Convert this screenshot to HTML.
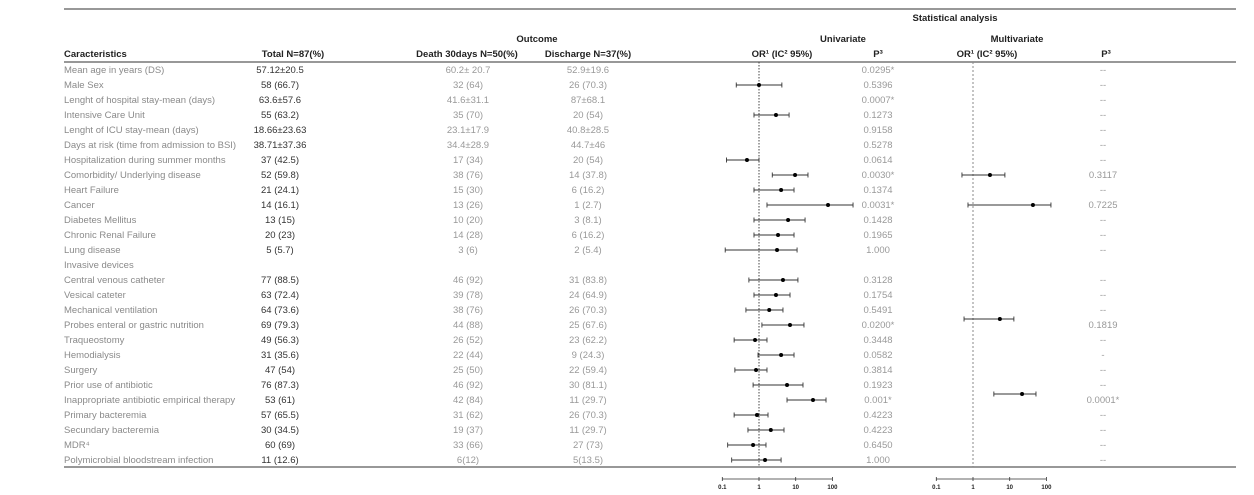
<!DOCTYPE html>
<html><head><meta charset="utf-8"><style>
body{margin:0;background:#fff;}
svg{display:block;font-family:"Liberation Sans",sans-serif;}
.h{font-weight:bold;fill:#222;font-size:9.5px}
.c{fill:#8a8a8a;font-size:9.5px}
.t{fill:#333;font-size:9.5px;text-anchor:middle}
.g{fill:#999;font-size:9.5px;text-anchor:middle}
</style></head><body>
<svg id="chart" width="1254" height="495">
<line x1="64" y1="9" x2="1236" y2="9" stroke="#777" stroke-width="1.5"/>
<text x="955" y="21" class="h" text-anchor="middle">Statistical analysis</text>
<text x="537" y="42" class="h" text-anchor="middle">Outcome</text>
<text x="843" y="42" class="h" text-anchor="middle">Univariate</text>
<text x="1017" y="42" class="h" text-anchor="middle">Multivariate</text>
<text x="64" y="57" class="h">Caracteristics</text>
<text x="293" y="57" class="h" text-anchor="middle">Total N=87(%)</text>
<text x="467" y="57" class="h" text-anchor="middle">Death 30days N=50(%)</text>
<text x="588" y="57" class="h" text-anchor="middle">Discharge N=37(%)</text>
<text x="782" y="57" class="h" text-anchor="middle">OR¹ (IC² 95%)</text>
<text x="878" y="57" class="h" text-anchor="middle">P³</text>
<text x="987" y="57" class="h" text-anchor="middle">OR¹ (IC² 95%)</text>
<text x="1106" y="57" class="h" text-anchor="middle">P³</text>
<line x1="64" y1="62" x2="1236" y2="62" stroke="#777" stroke-width="1.5"/>
<line x1="64" y1="467" x2="1236" y2="467" stroke="#777" stroke-width="1.5"/>
<g id="rows"></g>
<g id="marks"></g>
</svg>
<script>
const labels=["Mean age in years (DS)","Male Sex","Lenght of hospital stay-mean (days)","Intensive Care Unit","Lenght of ICU stay-mean (days)","Days at risk (time from admission to BSI)","Hospitalization during summer months","Comorbidity/ Underlying disease","Heart Failure","Cancer","Diabetes Mellitus","Chronic Renal Failure","Lung disease","Invasive devices","Central venous catheter","Vesical cateter","Mechanical ventilation","Probes enteral or gastric nutrition","Traqueostomy","Hemodialysis","Surgery","Prior use of antibiotic","Inappropriate antibiotic empirical therapy","Primary bacteremia","Secundary bacteremia","MDR⁴","Polymicrobial bloodstream infection"];
const totals=["57.12±20.5","58 (66.7)","63.6±57.6","55 (63.2)","18.66±23.63","38.71±37.36","37 (42.5)","52 (59.8)","21 (24.1)","14 (16.1)","13 (15)","20 (23)","5 (5.7)","","77 (88.5)","63 (72.4)","64 (73.6)","69 (79.3)","49 (56.3)","31 (35.6)","47 (54)","76 (87.3)","53 (61)","57 (65.5)","30 (34.5)","60 (69)","11 (12.6)"];
const deaths=["60.2± 20.7","32 (64)","41.6±31.1","35 (70)","23.1±17.9","34.4±28.9","17 (34)","38 (76)","15 (30)","13 (26)","10 (20)","14 (28)","3 (6)","","46 (92)","39 (78)","38 (76)","44 (88)","26 (52)","22 (44)","25 (50)","46 (92)","42 (84)","31 (62)","19 (37)","33 (66)","6(12)"];
const discharges=["52.9±19.6","26 (70.3)","87±68.1","20 (54)","40.8±28.5","44.7±46","20 (54)","14 (37.8)","6 (16.2)","1 (2.7)","3 (8.1)","6 (16.2)","2 (5.4)","","31 (83.8)","24 (64.9)","26 (70.3)","25 (67.6)","23 (62.2)","9 (24.3)","22 (59.4)","30 (81.1)","11 (29.7)","26 (70.3)","11 (29.7)","27 (73)","5(13.5)"];
const pUni=["0.0295*","0.5396","0.0007*","0.1273","0.9158","0.5278","0.0614","0.0030*","0.1374","0.0031*","0.1428","0.1965","1.000","","0.3128","0.1754","0.5491","0.0200*","0.3448","0.0582","0.3814","0.1923","0.001*","0.4223","0.4223","0.6450","1.000"];
const pMulti=["--","--","--","--","--","--","--","0.3117","--","0.7225","--","--","--","","--","--","--","0.1819","--","-","--","--","0.0001*","--","--","--","--"];
const uniOR=[null,1.0,null,2.9,null,null,0.47,9.6,4.0,76,6.2,3.3,3.1,null,4.5,2.9,1.9,7.0,0.78,4.0,0.83,5.8,29.6,0.88,2.1,0.69,1.46];
const uniLo=[null,0.24,null,0.73,null,null,0.13,2.3,0.73,1.65,0.73,0.73,0.12,null,0.53,0.73,0.44,1.2,0.21,0.94,0.22,0.69,5.8,0.21,0.5,0.14,0.18];
const uniHi=[null,4.2,null,6.6,null,null,1.0,21.6,9.0,365,18,9.0,10.9,null,11.5,7.0,4.5,16.8,1.65,9.0,1.65,15.8,67,1.76,4.8,1.55,4.0];
const multiRow=[7,9,16.6,21.6];
const multiOR=[2.9,43,5.4,21.7];
const multiLo=[0.5,0.73,0.57,3.7];
const multiHi=[7.4,133,13,52];
const ticks=[0.1,1,10,100];
const NS="http://www.w3.org/2000/svg";
function mk(tag,attrs,parent,text){const e=document.createElementNS(NS,tag);for(const k in attrs)e.setAttribute(k,attrs[k]);if(text!==undefined)e.textContent=text;parent.appendChild(e);return e;}
const rowY=i=>73+i*15;
const xUni=v=>759+36.7*Math.log10(v);
const xMul=v=>973+36.7*Math.log10(v);
const rows=document.getElementById('rows'),marks=document.getElementById('marks');
labels.forEach((l,i)=>{const y=rowY(i);
 let e=mk('text',{x:64,y:y,class:'c'},rows,l);
 
 
 e=mk('text',{x:280,y:y,class:'t'},rows,totals[i]);
 
 
 e=mk('text',{x:468,y:y,class:'g'},rows,deaths[i]);
 
 
 e=mk('text',{x:588,y:y,class:'g'},rows,discharges[i]);
 
 
 e=mk('text',{x:878,y:y,class:'g'},rows,pUni[i]);
 
 
 e=mk('text',{x:1103,y:y,class:'g'},rows,pMulti[i]);
 
 
});
let r=mk('line',{x1:759,y1:62,x2:759,y2:467,stroke:'#444','stroke-dasharray':'1.5,1.5'},marks);


r=mk('line',{x1:973,y1:62,x2:973,y2:467,stroke:'#888','stroke-dasharray':'2,2'},marks);


function ci(xf,v,lo,hi,y,name){
 const g=mk('g',{},marks);
 
 
 mk('line',{x1:xf(lo),y1:y,x2:xf(hi),y2:y,stroke:'#333','stroke-width':0.9},g);
 mk('line',{x1:xf(lo),y1:y-2.5,x2:xf(lo),y2:y+2.5,stroke:'#333','stroke-width':0.9},g);
 mk('line',{x1:xf(hi),y1:y-2.5,x2:xf(hi),y2:y+2.5,stroke:'#333','stroke-width':0.9},g);
 mk('circle',{cx:xf(v),cy:y,r:2,fill:'#000'},g);
}
uniOR.forEach((v,i)=>{if(v!==null)ci(xUni,v,uniLo[i],uniHi[i],rowY(i)-3,'univariate-or-marker');});
multiOR.forEach((v,i)=>ci(xMul,v,multiLo[i],multiHi[i],rowY(multiRow[i])-3,'multivariate-or-marker'));
function axis(xf,name){
 const g=mk('g',{},marks);
 
 
 mk('line',{x1:xf(ticks[0]),y1:479,x2:xf(ticks[ticks.length-1]),y2:479,stroke:'#333','stroke-width':0.8},g);
 ticks.forEach(t=>{mk('line',{x1:xf(t),y1:477,x2:xf(t),y2:481,stroke:'#333','stroke-width':0.8},g);
  mk('text',{x:xf(t),y:489,'text-anchor':'middle','font-size':'6px','font-weight':'bold',fill:'#222'},g,String(t));});
}
axis(xUni,'univariate-x-axis');
axis(xMul,'multivariate-x-axis');
</script>
</body></html>
